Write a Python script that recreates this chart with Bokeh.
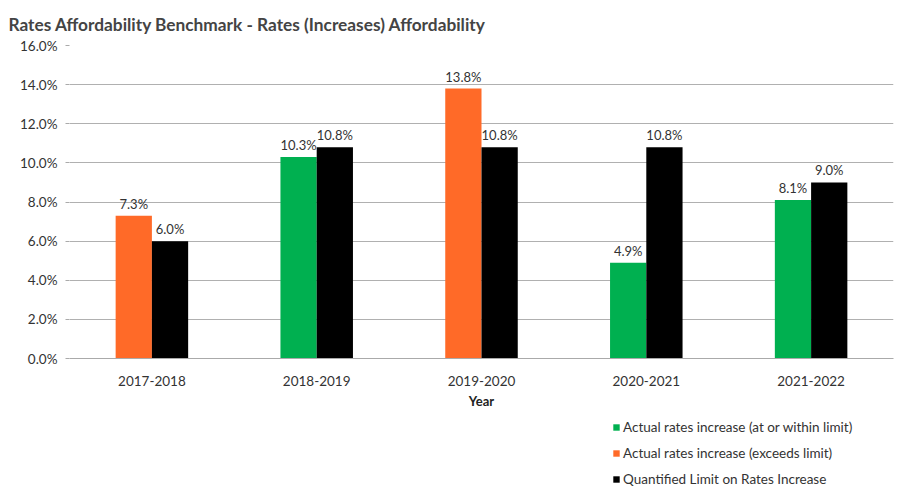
from bokeh.plotting import figure
from bokeh.models import ColumnDataSource, FactorRange, FixedTicker, PrintfTickFormatter, Legend, LegendItem
from bokeh.transform import dodge
from bokeh.layouts import column
from bokeh.embed import file_html
from bokeh.resources import INLINE
from bokeh.core.properties import value

years = ["2017-2018", "2018-2019", "2019-2020", "2020-2021", "2021-2022"]
actual = [7.3, 10.3, 13.8, 4.9, 8.1]
limit = [6.0, 10.8, 10.8, 10.8, 9.0]
y_ticks = [0, 2, 4, 6, 8, 10, 12, 14, 16]
legend_labels = ["Actual rates increase (at or within limit)",
                 "Actual rates increase (exceeds limit)",
                 "Quantified Limit on Rates Increase"]

GREEN = "#00B050"
ORANGE = "#FF6A28"
BLACK = "#000000"
FONT = "Lato"
TXT = "#333333"

within = [a if a <= l else float("nan") for a, l in zip(actual, limit)]
exceeds = [a if a > l else float("nan") for a, l in zip(actual, limit)]

src = ColumnDataSource(dict(
    year=years, within=within, exceeds=exceeds, actual=actual, limit=limit,
    actual_lbl=[f"{v:.1f}%" for v in actual],
    limit_lbl=[f"{v:.1f}%" for v in limit],
))

p = figure(x_range=FactorRange(*years), y_range=(0, 16), width=910, height=412,
           output_backend="svg", toolbar_location=None,
           min_border_left=69, min_border_right=17, min_border_top=0, min_border_bottom=54)
p.x_range.range_padding = 0.0

bw = 0.22
p.vbar(x=dodge("year", -bw / 2, range=p.x_range), top="within", width=bw, source=src,
       fill_color=GREEN, line_color=None)
p.vbar(x=dodge("year", -bw / 2, range=p.x_range), top="exceeds", width=bw, source=src,
       fill_color=ORANGE, line_color=None)
p.vbar(x=dodge("year", bw / 2, range=p.x_range), top="limit", width=bw, source=src,
       fill_color=BLACK, line_color=None)

p.text(x=dodge("year", -bw / 2, range=p.x_range), y="actual", text="actual_lbl", source=src,
       text_align="center", text_baseline="bottom", y_offset=-4,
       text_font=value(FONT), text_font_size="13px", text_color=TXT)
p.text(x=dodge("year", bw / 2, range=p.x_range), y="limit", text="limit_lbl", source=src,
       text_align="center", text_baseline="bottom", y_offset=-4,
       text_font=value(FONT), text_font_size="13px", text_color=TXT)

p.yaxis.ticker = FixedTicker(ticks=y_ticks)
p.yaxis.formatter = PrintfTickFormatter(format="%.1f%%")
p.yaxis.axis_line_color = None
p.yaxis.major_tick_line_color = "#aaaaaa"
p.yaxis.major_tick_out = 4
p.yaxis.major_tick_in = 0
p.yaxis.minor_tick_line_color = None
p.yaxis.major_label_text_font = FONT
p.yaxis.major_label_text_font_size = "13.5px"
p.yaxis.major_label_text_color = TXT
p.yaxis.major_label_standoff = 8

p.xaxis.axis_line_color = "#aaaaaa"
p.xaxis.major_tick_line_color = None
p.xaxis.major_label_text_font = FONT
p.xaxis.major_label_text_font_size = "13.5px"
p.xaxis.major_label_text_color = TXT
p.xaxis.major_label_standoff = 11
p.xaxis.axis_label = "Year"
p.xaxis.axis_label_text_font = FONT
p.xaxis.axis_label_text_font_style = "bold"
p.xaxis.axis_label_text_font_size = "13px"
p.xaxis.axis_label_standoff = 4
p.xaxis.axis_label_text_color = "#222222"

p.xgrid.grid_line_color = None
p.ygrid.grid_line_color = "#b0b0b0"
p.outline_line_color = None

p.title.text = "Rates Affordability Benchmark - Rates (Increases) Affordability"
p.title.text_font = FONT
p.title.text_font_size = "17.3px"
p.title.text_font_style = "bold"
p.title.text_line_height = 1.0
p.title.align = "left"
p.title.offset = -61
p.title.standoff = 22

# legend strip below the chart (its frame is aligned with the chart's frame)
p2 = figure(width=910, height=77, x_range=(0, 10), y_range=(0, 10),
            output_backend="svg", toolbar_location=None,
            min_border_left=0, min_border_right=0, min_border_top=0, min_border_bottom=0)
p2.axis.visible = False
p2.grid.visible = False
p2.outline_line_color = None
items = []
for lbl, col in zip(legend_labels, [GREEN, ORANGE, BLACK]):
    r = p2.vbar(x=[-100], top=[-100], bottom=[-101], width=1, fill_color=col, line_color=None)
    items.append(LegendItem(label=lbl, renderers=[r]))
legend = Legend(items=items, location=(543, 0), glyph_width=8, glyph_height=8, spacing=6,
                label_height=20, label_text_font=FONT, label_text_font_size="13.5px",
                label_text_color=TXT, border_line_color=None, background_fill_alpha=0,
                padding=0, margin=0, label_standoff=3)
p2.add_layout(legend)

open("out.html", "w").write(file_html(column(p, p2, spacing=0), INLINE))
